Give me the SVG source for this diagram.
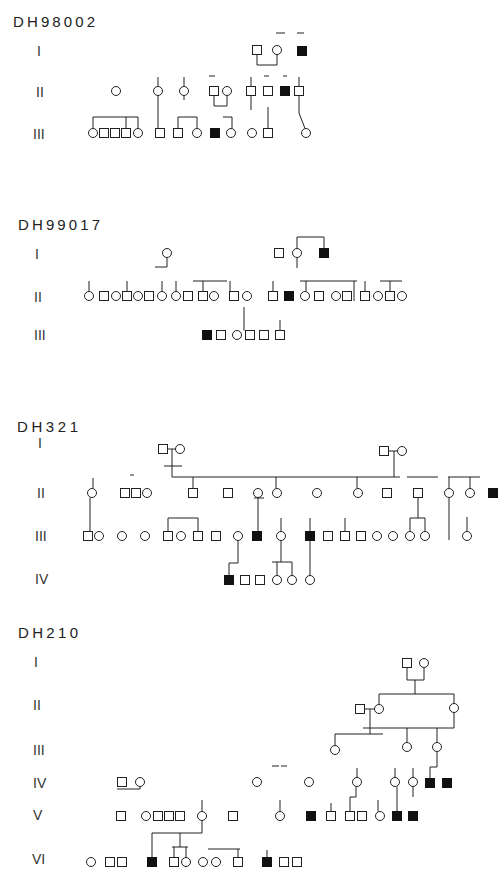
<svg xmlns="http://www.w3.org/2000/svg" width="499" height="874" viewBox="0 0 499 874">
<style>
.o{fill:#fff;stroke:#222;stroke-width:1}
.f{fill:#111;stroke:#111;stroke-width:1}
.l{fill:none;stroke:#222;stroke-width:1}
.t{font-family:"Liberation Sans",Arial,sans-serif;font-size:15px;fill:#222}
.g{font-family:"Liberation Sans",Arial,sans-serif;font-size:14px;fill:#333}
</style>
<defs>
<rect id="sq" x="-4.5" y="-4.5" width="9" height="9"/>
<circle id="ci" r="4.5"/>
</defs>
<rect width="499" height="874" fill="#fff"/>

<!-- ================= Pedigree 1 ================= -->
<g id="ped1-labels">
<text class="t" x="13" y="27" textLength="82">DH98002</text>
<text class="g" x="37" y="56">I</text>
<text class="g" x="36" y="97">II</text>
<text class="g" x="33" y="139">III</text>
</g>
<g id="ped1-connectors">
<path class="l" d="M257 54.5 V65 H277 V54.5"/>
<path class="l" d="M276 33 H285 M297 33 H304"/>
<path class="l" d="M158 77 V86.5 M158 95.5 V128.5"/>
<path class="l" d="M184 77 V86.5 M184 95.5 V100"/>
<path class="l" d="M214 95.5 V106 H227 V95.5 M209 76 H215"/>
<path class="l" d="M251 77 V86.5 M251 95.5 V110"/>
<path class="l" d="M264 76 H269 M268 107 V128.5 M283 76 H287"/>
<path class="l" d="M299 77 V86.5 M299 95.5 V113 L305 128.5"/>
<path class="l" d="M93 117 H138 M93 117 V128.5 M126 117 V128.5 M138 117 V128.5"/>
<path class="l" d="M178 128.5 V117 H197 V128.5"/>
<path class="l" d="M223 117 H232 V128.5"/>
</g>
<g id="p1-I-1"><use href="#sq" x="257" y="50" class="o"/></g>
<g id="p1-I-2"><use href="#ci" x="277" y="50" class="o"/></g>
<g id="p1-I-3"><use href="#sq" x="302" y="51" class="f"/></g>
<g id="p1-II-1"><use href="#ci" x="116" y="91" class="o"/></g>
<g id="p1-II-2"><use href="#ci" x="158" y="91" class="o"/></g>
<g id="p1-II-3"><use href="#ci" x="184" y="91" class="o"/></g>
<g id="p1-II-4"><use href="#sq" x="214" y="91" class="o"/></g>
<g id="p1-II-5"><use href="#ci" x="227" y="91" class="o"/></g>
<g id="p1-II-6"><use href="#sq" x="251" y="91" class="o"/></g>
<g id="p1-II-7"><use href="#sq" x="268" y="91" class="o"/></g>
<g id="p1-II-8"><use href="#sq" x="285" y="91" class="f"/></g>
<g id="p1-II-9"><use href="#sq" x="299" y="91" class="o"/></g>
<g id="p1-III-1"><use href="#ci" x="93" y="133" class="o"/></g>
<g id="p1-III-2"><use href="#sq" x="104" y="133" class="o"/></g>
<g id="p1-III-3"><use href="#sq" x="115" y="133" class="o"/></g>
<g id="p1-III-4"><use href="#sq" x="126" y="133" class="o"/></g>
<g id="p1-III-5"><use href="#ci" x="138" y="133" class="o"/></g>
<g id="p1-III-6"><use href="#sq" x="160" y="133" class="o"/></g>
<g id="p1-III-7"><use href="#sq" x="178" y="133" class="o"/></g>
<g id="p1-III-8"><use href="#ci" x="197" y="133" class="o"/></g>
<g id="p1-III-9"><use href="#sq" x="215" y="133" class="f"/></g>
<g id="p1-III-10"><use href="#ci" x="231" y="133" class="o"/></g>
<g id="p1-III-11"><use href="#ci" x="252" y="133" class="o"/></g>
<g id="p1-III-12"><use href="#sq" x="268" y="133" class="o"/></g>
<g id="p1-III-13"><use href="#ci" x="306" y="133" class="o"/></g>

<!-- ================= Pedigree 2 ================= -->
<g id="ped2-labels">
<text class="t" x="18" y="230" textLength="82">DH99017</text>
<text class="g" x="35" y="259">I</text>
<text class="g" x="34" y="302">II</text>
<text class="g" x="34" y="340">III</text>
</g>
<g id="ped2-connectors">
<path class="l" d="M155 267 H167 V257.5"/>
<path class="l" d="M297 248.5 V237 H324 V248.5 M297 257.5 V268"/>
<path class="l" d="M193 281 H227 M300 281 H357 M380 281 H402"/>
<path class="l" d="M89 281 V291.5 M127 281 V291.5 M162 281 V291.5 M176 281 V291.5 M203 281 V291.5 M230 281 V291.5 M273 281 V291.5 M306 281 V291.5 M354 281 V301 M365 281 V291.5 M390 281 V291.5"/>
<path class="l" d="M244 307 V330.5 M280 320 V330.5"/>
</g>
<g id="p2-I-1"><use href="#ci" x="167" y="253" class="o"/></g>
<g id="p2-I-2"><use href="#sq" x="279" y="253" class="o"/></g>
<g id="p2-I-3"><use href="#ci" x="297" y="253" class="o"/></g>
<g id="p2-I-4"><use href="#sq" x="324" y="253" class="f"/></g>
<g id="p2-II-1"><use href="#ci" x="89" y="296" class="o"/></g>
<g id="p2-II-2"><use href="#sq" x="104" y="296" class="o"/></g>
<g id="p2-II-3"><use href="#ci" x="116" y="296" class="o"/></g>
<g id="p2-II-4"><use href="#sq" x="127" y="296" class="o"/></g>
<g id="p2-II-5"><use href="#ci" x="138" y="296" class="o"/></g>
<g id="p2-II-6"><use href="#sq" x="149" y="296" class="o"/></g>
<g id="p2-II-7"><use href="#ci" x="162" y="296" class="o"/></g>
<g id="p2-II-8"><use href="#ci" x="176" y="296" class="o"/></g>
<g id="p2-II-9"><use href="#sq" x="188" y="296" class="o"/></g>
<g id="p2-II-10"><use href="#sq" x="203" y="296" class="o"/></g>
<g id="p2-II-11"><use href="#ci" x="214" y="296" class="o"/></g>
<g id="p2-II-12"><use href="#sq" x="234" y="296" class="o"/></g>
<g id="p2-II-13"><use href="#ci" x="247" y="296" class="o"/></g>
<g id="p2-II-14"><use href="#sq" x="273" y="296" class="o"/></g>
<g id="p2-II-15"><use href="#sq" x="289" y="296" class="f"/></g>
<g id="p2-II-16"><use href="#ci" x="305" y="296" class="o"/></g>
<g id="p2-II-17"><use href="#sq" x="319" y="296" class="o"/></g>
<g id="p2-II-18"><use href="#ci" x="336" y="296" class="o"/></g>
<g id="p2-II-19"><use href="#sq" x="347" y="296" class="o"/></g>
<g id="p2-II-20"><use href="#sq" x="365" y="296" class="o"/></g>
<g id="p2-II-21"><use href="#ci" x="378" y="296" class="o"/></g>
<g id="p2-II-22"><use href="#sq" x="390" y="296" class="o"/></g>
<g id="p2-II-23"><use href="#ci" x="402" y="296" class="o"/></g>
<g id="p2-III-1"><use href="#sq" x="207" y="335" class="f"/></g>
<g id="p2-III-2"><use href="#sq" x="221" y="335" class="o"/></g>
<g id="p2-III-3"><use href="#ci" x="237" y="335" class="o"/></g>
<g id="p2-III-4"><use href="#sq" x="250" y="335" class="o"/></g>
<g id="p2-III-5"><use href="#sq" x="264" y="335" class="o"/></g>
<g id="p2-III-6"><use href="#sq" x="280" y="335" class="o"/></g>

<!-- ================= Pedigree 3 ================= -->
<g id="ped3-labels">
<text class="t" x="17" y="432" textLength="61">DH321</text>
<text class="g" x="38" y="448">I</text>
<text class="g" x="37" y="498">II</text>
<text class="g" x="35" y="541">III</text>
<text class="g" x="35" y="584">IV</text>
</g>
<g id="ped3-connectors">
<path class="l" d="M167.5 449 H175.5 M172 449 V477 M164 466 H182"/>
<path class="l" d="M172 477 H400 M407 477 H438 M448 477 H480"/>
<path class="l" d="M388.5 451 H397.5 M394 451 V477"/>
<path class="l" d="M193 477 V488.5 M276 477 V488.5 M357 477 V488.5 M449 477 V488.5 M470 477 V488.5 M93 478 V488.5 M130 475 H134"/>
<path class="l" d="M90 497.5 V531.5 M258 497.5 V531.5 M254 498 H264"/>
<path class="l" d="M418 497.5 V518 M410 518 H425 M410 518 V531.5 M425 518 V531.5"/>
<path class="l" d="M449 497.5 V540 M467 517 V531.5"/>
<path class="l" d="M168 518 H198 M168 518 V531.5 M198 518 V531.5 M281 518 V531.5 M310 518 V531.5 M345 518 V531.5"/>
<path class="l" d="M238 540.5 V563 M229 563 H238 M229 563 V575.5"/>
<path class="l" d="M281 540.5 V562 M272 562 H292 M277 562 V575.5 M292 562 V575.5"/>
<path class="l" d="M310 540.5 V575.5"/>
</g>
<g id="p3-I-1"><use href="#sq" x="163" y="449" class="o"/></g>
<g id="p3-I-2"><use href="#ci" x="180" y="449" class="o"/></g>
<g id="p3-I-3"><use href="#sq" x="384" y="451" class="o"/></g>
<g id="p3-I-4"><use href="#ci" x="402" y="451" class="o"/></g>
<g id="p3-II-1"><use href="#ci" x="92" y="493" class="o"/></g>
<g id="p3-II-2"><use href="#sq" x="125" y="493" class="o"/></g>
<g id="p3-II-3"><use href="#sq" x="136" y="493" class="o"/></g>
<g id="p3-II-4"><use href="#ci" x="147" y="493" class="o"/></g>
<g id="p3-II-5"><use href="#sq" x="193" y="493" class="o"/></g>
<g id="p3-II-6"><use href="#sq" x="228" y="493" class="o"/></g>
<g id="p3-II-7"><use href="#ci" x="258" y="493" class="o"/></g>
<g id="p3-II-8"><use href="#ci" x="277" y="493" class="o"/></g>
<g id="p3-II-9"><use href="#ci" x="317" y="493" class="o"/></g>
<g id="p3-II-10"><use href="#ci" x="358" y="493" class="o"/></g>
<g id="p3-II-11"><use href="#sq" x="387" y="493" class="o"/></g>
<g id="p3-II-12"><use href="#sq" x="418" y="493" class="o"/></g>
<g id="p3-II-13"><use href="#ci" x="449" y="493" class="o"/></g>
<g id="p3-II-14"><use href="#ci" x="470" y="493" class="o"/></g>
<g id="p3-II-15"><use href="#sq" x="493" y="493" class="f"/></g>
<g id="p3-III-1"><use href="#sq" x="88" y="536" class="o"/></g>
<g id="p3-III-2"><use href="#ci" x="99" y="536" class="o"/></g>
<g id="p3-III-3"><use href="#ci" x="122" y="536" class="o"/></g>
<g id="p3-III-4"><use href="#ci" x="145" y="536" class="o"/></g>
<g id="p3-III-5"><use href="#sq" x="168" y="536" class="o"/></g>
<g id="p3-III-6"><use href="#ci" x="181" y="536" class="o"/></g>
<g id="p3-III-7"><use href="#sq" x="198" y="536" class="o"/></g>
<g id="p3-III-8"><use href="#sq" x="216" y="536" class="o"/></g>
<g id="p3-III-9"><use href="#ci" x="238" y="536" class="o"/></g>
<g id="p3-III-10"><use href="#sq" x="257" y="536" class="f"/></g>
<g id="p3-III-11"><use href="#ci" x="281" y="536" class="o"/></g>
<g id="p3-III-12"><use href="#sq" x="310" y="536" class="f"/></g>
<g id="p3-III-13"><use href="#sq" x="328" y="536" class="o"/></g>
<g id="p3-III-14"><use href="#sq" x="345" y="536" class="o"/></g>
<g id="p3-III-15"><use href="#sq" x="361" y="536" class="o"/></g>
<g id="p3-III-16"><use href="#ci" x="377" y="536" class="o"/></g>
<g id="p3-III-17"><use href="#ci" x="393" y="536" class="o"/></g>
<g id="p3-III-18"><use href="#ci" x="410" y="536" class="o"/></g>
<g id="p3-III-19"><use href="#ci" x="425" y="536" class="o"/></g>
<g id="p3-III-20"><use href="#ci" x="467" y="536" class="o"/></g>
<g id="p3-IV-1"><use href="#sq" x="229" y="580" class="f"/></g>
<g id="p3-IV-2"><use href="#sq" x="245" y="580" class="o"/></g>
<g id="p3-IV-3"><use href="#sq" x="260" y="580" class="o"/></g>
<g id="p3-IV-4"><use href="#ci" x="277" y="580" class="o"/></g>
<g id="p3-IV-5"><use href="#ci" x="292" y="580" class="o"/></g>
<g id="p3-IV-6"><use href="#ci" x="310" y="580" class="o"/></g>

<!-- ================= Pedigree 4 ================= -->
<g id="ped4-labels">
<text class="t" x="18" y="638" textLength="60">DH210</text>
<text class="g" x="34" y="667">I</text>
<text class="g" x="33" y="710">II</text>
<text class="g" x="33" y="755">III</text>
<text class="g" x="33" y="788">IV</text>
<text class="g" x="33" y="820">V</text>
<text class="g" x="32" y="864">VI</text>
</g>
<g id="ped4-connectors">
<path class="l" d="M407 667.5 V680 H424 V667.5 M415 680 V694"/>
<path class="l" d="M379 694 H454 M379 694 V704.5 M454 694 V703.5"/>
<path class="l" d="M364.5 709 H374.5 M370 709 V734 M335 734 H383 M335 734 V745.5"/>
<path class="l" d="M454 712.5 V728 M363 728 H454 M407 728 V742.5 M437 728 V742.5"/>
<path class="l" d="M437 751.5 V767 H430 V778.5"/>
<path class="l" d="M272 766 H279 M281 766 H287"/>
<path class="l" d="M117 789 H140 M140 786.5 V789"/>
<path class="l" d="M357 768 V777.5 M395 768 V777.5 M413 768 V777.5"/>
<path class="l" d="M356 786.5 V797 H350 V811.5 M397 786.5 V811.5 M413 786.5 V797"/>
<path class="l" d="M202 800 V811.5 M280 800 V811.5 M331 803 V811.5 M378 800 V811.5"/>
<path class="l" d="M202 820.5 V833 M152 833 H202 M152 833 V857.5 M180 833 V847 M172 847 H188 M174 847 V857.5 M186 847 V857.5"/>
<path class="l" d="M208 849 H240 M238 849 V857.5 M267 850 V857.5"/>
</g>
<g id="p4-I-1"><use href="#sq" x="407" y="663" class="o"/></g>
<g id="p4-I-2"><use href="#ci" x="424" y="663" class="o"/></g>
<g id="p4-II-1"><use href="#sq" x="360" y="709" class="o"/></g>
<g id="p4-II-2"><use href="#ci" x="379" y="709" class="o"/></g>
<g id="p4-II-3"><use href="#ci" x="454" y="708" class="o"/></g>
<g id="p4-III-1"><use href="#ci" x="335" y="750" class="o"/></g>
<g id="p4-III-2"><use href="#ci" x="407" y="747" class="o"/></g>
<g id="p4-III-3"><use href="#ci" x="437" y="747" class="o"/></g>
<g id="p4-IV-1"><use href="#sq" x="122" y="782" class="o"/></g>
<g id="p4-IV-2"><use href="#ci" x="140" y="782" class="o"/></g>
<g id="p4-IV-3"><use href="#ci" x="257" y="782" class="o"/></g>
<g id="p4-IV-4"><use href="#ci" x="309" y="782" class="o"/></g>
<g id="p4-IV-5"><use href="#ci" x="357" y="782" class="o"/></g>
<g id="p4-IV-6"><use href="#ci" x="395" y="782" class="o"/></g>
<g id="p4-IV-7"><use href="#ci" x="413" y="782" class="o"/></g>
<g id="p4-IV-8"><use href="#sq" x="430" y="783" class="f"/></g>
<g id="p4-IV-9"><use href="#sq" x="447" y="783" class="f"/></g>
<g id="p4-V-1"><use href="#sq" x="121" y="816" class="o"/></g>
<g id="p4-V-2"><use href="#ci" x="146" y="816" class="o"/></g>
<g id="p4-V-3"><use href="#sq" x="158" y="816" class="o"/></g>
<g id="p4-V-4"><use href="#sq" x="169" y="816" class="o"/></g>
<g id="p4-V-5"><use href="#sq" x="180" y="816" class="o"/></g>
<g id="p4-V-6"><use href="#ci" x="202" y="816" class="o"/></g>
<g id="p4-V-7"><use href="#sq" x="233" y="816" class="o"/></g>
<g id="p4-V-8"><use href="#ci" x="280" y="816" class="o"/></g>
<g id="p4-V-9"><use href="#sq" x="311" y="816" class="f"/></g>
<g id="p4-V-10"><use href="#sq" x="331" y="816" class="o"/></g>
<g id="p4-V-11"><use href="#sq" x="350" y="816" class="o"/></g>
<g id="p4-V-12"><use href="#sq" x="362" y="816" class="o"/></g>
<g id="p4-V-13"><use href="#ci" x="380" y="816" class="o"/></g>
<g id="p4-V-14"><use href="#sq" x="397" y="816" class="f"/></g>
<g id="p4-V-15"><use href="#sq" x="413" y="816" class="f"/></g>
<g id="p4-VI-1"><use href="#ci" x="91" y="862" class="o"/></g>
<g id="p4-VI-2"><use href="#sq" x="110" y="862" class="o"/></g>
<g id="p4-VI-3"><use href="#sq" x="122" y="862" class="o"/></g>
<g id="p4-VI-4"><use href="#sq" x="152" y="862" class="f"/></g>
<g id="p4-VI-5"><use href="#sq" x="174" y="862" class="o"/></g>
<g id="p4-VI-6"><use href="#ci" x="186" y="862" class="o"/></g>
<g id="p4-VI-7"><use href="#ci" x="203" y="862" class="o"/></g>
<g id="p4-VI-8"><use href="#ci" x="216" y="862" class="o"/></g>
<g id="p4-VI-9"><use href="#sq" x="238" y="862" class="o"/></g>
<g id="p4-VI-10"><use href="#sq" x="267" y="862" class="f"/></g>
<g id="p4-VI-11"><use href="#sq" x="284" y="862" class="o"/></g>
<g id="p4-VI-12"><use href="#sq" x="297" y="862" class="o"/></g>
</svg>
